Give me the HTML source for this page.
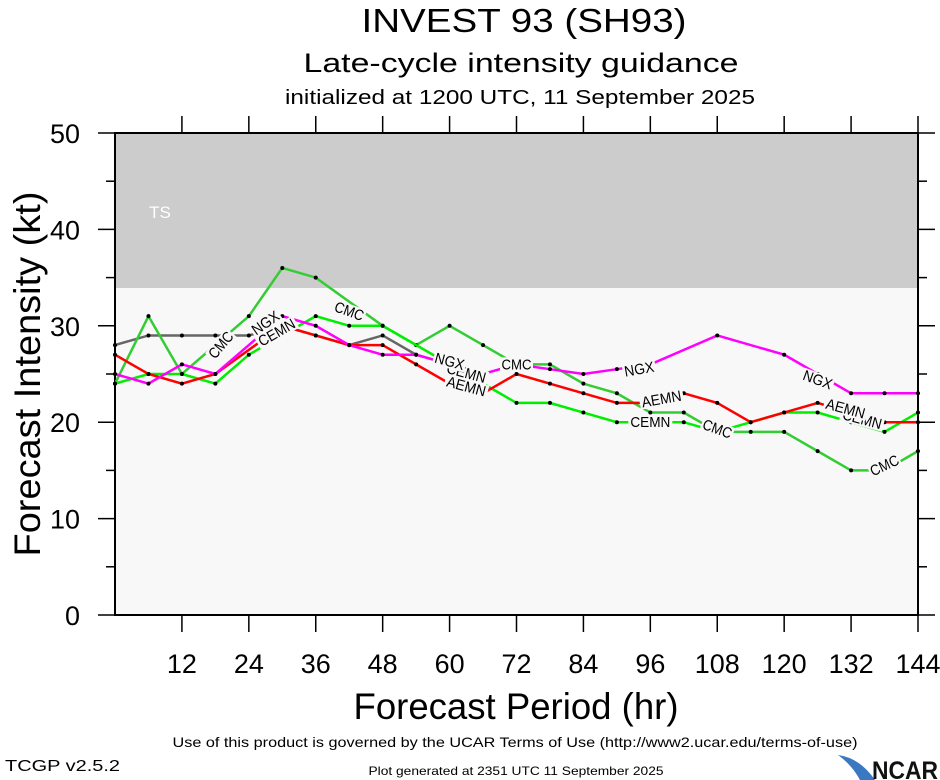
<!DOCTYPE html>
<html><head><meta charset="utf-8"><style>
html,body{margin:0;padding:0;background:#fff;width:940px;height:780px;overflow:hidden}
svg{display:block;font-family:"Liberation Sans",Arial,sans-serif}
</style></head><body>
<svg id="s" width="940" height="780" viewBox="0 0 940 780" xmlns="http://www.w3.org/2000/svg">
<rect x="115" y="133" width="803" height="482" fill="#f8f8f8"/>
<rect x="115" y="133" width="803" height="155" fill="#cccccc"/>
<text x="160" y="218" font-size="17" fill="#fff" text-anchor="middle">TS</text>
<text x="524" y="32" font-size="33" text-anchor="middle" textLength="325" lengthAdjust="spacingAndGlyphs">INVEST 93 (SH93)</text>
<text x="521" y="72" font-size="27" text-anchor="middle" textLength="435" lengthAdjust="spacingAndGlyphs">Late-cycle intensity guidance</text>
<text x="520" y="104" font-size="20" text-anchor="middle" textLength="470" lengthAdjust="spacingAndGlyphs">initialized at 1200 UTC, 11 September 2025</text>
<g id="axes"></g>
<g id="series"></g>
<text x="516" y="719" font-size="37" text-anchor="middle" textLength="325" lengthAdjust="spacingAndGlyphs">Forecast Period (hr)</text>
<text transform="translate(40,374) rotate(-90)" font-size="37" text-anchor="middle" textLength="365" lengthAdjust="spacingAndGlyphs">Forecast Intensity (kt)</text>
<text x="515" y="747" font-size="14" text-anchor="middle" textLength="685" lengthAdjust="spacingAndGlyphs">Use of this product is governed by the UCAR Terms of Use (http://www2.ucar.edu/terms-of-use)</text>
<text x="5" y="771" font-size="16" textLength="115" lengthAdjust="spacingAndGlyphs">TCGP v2.5.2</text>
<text x="516" y="775" font-size="12" text-anchor="middle" textLength="295" lengthAdjust="spacingAndGlyphs">Plot generated at 2351 UTC   11 September 2025</text>
<path d="M838 755 Q860 758 875 780 L860 780 Q852 765 838 755Z" fill="#3a78c2"/>
<text x="872" y="779" font-size="25" font-weight="bold" textLength="66" lengthAdjust="spacingAndGlyphs" fill="#111">NCAR</text>
</svg>
<script>
var NS="http://www.w3.org/2000/svg";
function X(h){return 115+h*803/144}
function Y(v){return 615-v*9.64}
function el(p,t,a,txt){var e=document.createElementNS(NS,t);for(var k in a)e.setAttribute(k,a[k]);if(txt!=null)e.textContent=txt;p.appendChild(e);return e}
var ax=document.getElementById('axes');
el(ax,'rect',{x:115,y:133,width:803,height:482,fill:'none',stroke:'#000','stroke-width':2});
for(var v=0;v<=50;v+=5){var y=Y(v),L=v%10==0?17:9;
 el(ax,'line',{x1:115-L,y1:y,x2:115,y2:y,stroke:'#000','stroke-width':1.5});
 el(ax,'line',{x1:918,y1:y,x2:918+L,y2:y,stroke:'#000','stroke-width':1.5});
 if(v%10==0)el(ax,'text',{x:80,y:y+10,'font-size':27,'text-anchor':'end',textLength:(v==0?15:30),lengthAdjust:'spacingAndGlyphs'},String(v));}
for(var h=12;h<=144;h+=12){var x=X(h);
 el(ax,'line',{x1:x,y1:615,x2:x,y2:632,stroke:'#000','stroke-width':1.5});
 el(ax,'line',{x1:x,y1:116,x2:x,y2:133,stroke:'#000','stroke-width':1.5});
 el(ax,'text',{x:x,y:673,'font-size':27,'text-anchor':'middle',textLength:(h<100?30:45),lengthAdjust:'spacingAndGlyphs'},String(h));}
var S=[
 {c:'#666666',d:[28,29,29,29,29,30,29,28,29,27,26]},
 {c:'#33cc33',d:[24,31,25,null,31,36,35,null,30,28,30,28,26,26,24,23,21,21,19,19,19,17,15,15,17],lab:[[19,28,-50],[42,31.5,20],[72,26,0],[108,19.3,20],[138,15.5,-25]],n:'CMC'},
 {c:'#00ee00',d:[24,25,25,24,27,null,31,30,30,null,null,24,22,22,21,20,20,20,19,20,21,21,20,19,21],lab:[[29,29.3,-30],[63,25.1,15],[96,20,0],[134,20.3,15]],n:'CEMN'},
 {c:'#ff0000',d:[27,25,24,25,null,30,29,28,28,26,24,23,25,24,23,22,22,23,22,20,21,22,21,20,20],lab:[[63,23.7,15],[98,22.4,-10],[131,21.4,15]],n:'AEMN'},
 {c:'#ff00ff',d:[25,24,26,25,null,31,30,28,27,27,26,25,26,25.5,25,25.5,26,null,29,null,27,25,23,23,23],lab:[[27,30.3,-35],[60,26.3,15],[94,25.5,-10],[126,24.4,20]],n:'NGX'}
];
var sg=document.getElementById('series');
S.forEach(function(s){var pts=[];s.d.forEach(function(v,i){if(v!=null)pts.push([X(i*6),Y(v)])});
 el(sg,'polyline',{points:pts.map(function(p){return p.join(',')}).join(' '),fill:'none',stroke:s.c,'stroke-width':2.5});
 pts.forEach(function(p){el(sg,'circle',{cx:p[0],cy:p[1],r:2,fill:'#000'})});
});
S.forEach(function(s){if(!s.lab)return;s.lab.forEach(function(l){var x=X(l[0]),y=Y(l[1]);
 var g=el(sg,'g',{transform:'translate('+x+','+y+') rotate('+l[2]+')'});
 el(g,'rect',{x:-s.n.length*5.5,y:-7,width:s.n.length*11,height:14,fill:'#f8f8f8'});
 el(g,'text',{x:0,y:5,'font-size':15,'text-anchor':'middle',textLength:s.n.length*10,lengthAdjust:'spacingAndGlyphs'},s.n);});});
</script>
</body></html>
